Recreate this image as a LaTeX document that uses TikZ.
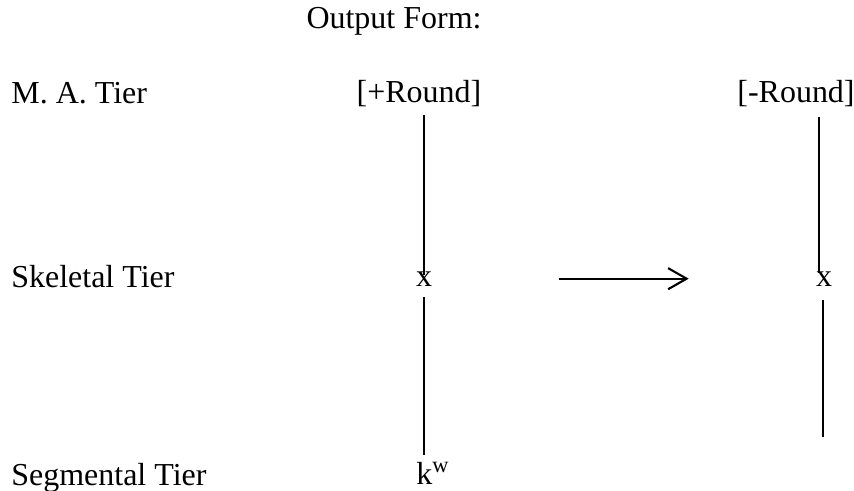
\documentclass[tikz,border=0pt]{standalone}
\usepackage{fontspec}
\setmainfont{Liberation Serif}
\usepackage{tikz}
\usetikzlibrary{arrows.meta,positioning,calc}

\begin{document}
\begin{tikzpicture}[
  x=0.02cm, y=-0.02cm,
  every node/.style={font=\fontsize{18.2}{22}\selectfont, inner sep=0pt},
  tier/.style={anchor=base west},
  seg/.style={anchor=base},
  tie/.style={line width=0.85pt},
  trans/.style={-{Straight Barb[length=10.5pt, width=12pt, line width=1.2pt]}, line width=1.3pt}
]
  \useasboundingbox (0,0) rectangle (854,490);

  \node[seg] (title) at (394,29) {Output Form:};

  % tier labels
  \node[tier] (ma)   at (11,103) {M. A. Tier};
  \node[tier] (skel) at (11,287) {Skeletal Tier};
  \node[tier] (segm) at (11,485) {Segmental Tier};

  % input
  \node[seg] (plusR) at (419,102) {[+Round]};
  \node[seg] (xL)    at (424,286) {x};
  \node[tier] (kw)   at (416,484) {k\textsuperscript{w}};

  % output
  \node[seg] (minusR) at (796,102) {[-Round]};
  \node[seg] (xR)     at (824,286) {x};
  \coordinate (endR) at (823,437);

  \draw[tie] ($(plusR.base -| xL)+(0,13)$) -- ($(xL.base)+(0,-11)$);
  \draw[tie] ($(xL.base)+(0,11)$) -- ($(kw.base -| xL)+(0,-29)$);
  \draw[tie] ($(minusR.base -| xR)+(-5,15)$) -- ($(xR.base)+(-5,-13)$);
  \draw[tie] ($(xR.base)+(-1,14)$) -- (endR);

  \draw[trans, shorten <=77pt, shorten >=77pt] (xL.center) -- (xR.center);
\end{tikzpicture}
\end{document}
